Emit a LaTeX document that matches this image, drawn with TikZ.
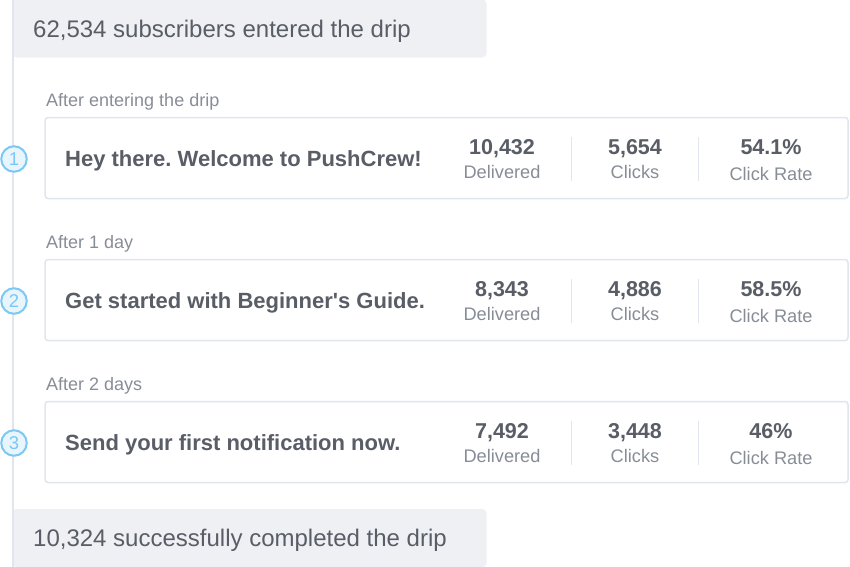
\documentclass[tikz,border=0pt]{standalone}
\usepackage{fontspec}
\setmainfont{Liberation Sans}[Ligatures=TeXOff]
\usetikzlibrary{positioning}
\definecolor{boxgray}{HTML}{EFF0F4}
\definecolor{linegray}{HTML}{E0E5EE}
\definecolor{titlegray}{HTML}{585D66}
\definecolor{labelgray}{HTML}{878D97}
\definecolor{stepblue}{HTML}{7CC8F5}
\definecolor{stepfill}{HTML}{E8F5FC}
\frenchspacing

\begin{document}
\begin{tikzpicture}[x=1pt,y=-1pt,
  summary/.style={fill=boxgray,rounded corners=4pt,minimum width=474pt,minimum height=58pt,inner sep=0pt},
  summarytext/.style={anchor=base west,inner sep=0pt,text=titlegray,font=\fontsize{24}{26}\selectfont},
  card/.style={draw=linegray,line width=1.5pt,fill=white,rounded corners=3pt,minimum width=803pt,minimum height=81pt,inner sep=0pt},
  delay/.style={anchor=base west,inner sep=0pt,text=labelgray,font=\fontsize{18}{20}\selectfont},
  msgtitle/.style={anchor=base west,inner sep=0pt,text=titlegray,font=\fontsize{22}{24}\selectfont\bfseries},
  stat/.style={anchor=base,inner sep=0pt,text=titlegray,font=\fontsize{21.5}{24}\selectfont\bfseries},
  statlabel/.style={anchor=base,inner sep=0pt,text=labelgray,font=\fontsize{18.2}{20}\selectfont},
  divider/.style={draw=linegray,line width=1.5pt},
  stepnum/.style={circle,draw=stepblue,fill=stepfill,line width=2pt,minimum size=25.5pt,inner sep=0pt,text=stepblue,font=\fontsize{18.5}{18}\selectfont},
  track/.style={draw=linegray,line width=2pt}]
\clip (0,0) rectangle (850,566);

% start and end of the drip
\node[summary] (start) at (249.5,28.5) {};
\node[summarytext] (start_t) at (33,37.5) {62,534 subscribers entered the drip};
\node[summary] (finish) at (249.5,538) {};
\node[summarytext] (finish_t) at (33,546.5) {10,324 successfully completed the drip};

\draw[track] ([xshift=1pt]start.north west) -- ([xshift=1pt]finish.south west);

%% message 1
\node[delay] (d_1) at (46,106) {After entering the drip};
\node[card] (c_1) at (446.5,158) {};
\node[msgtitle] (t_1) at (65,166.5) {Hey there. Welcome to PushCrew!};
\node[stat] (n_1a) at (502,154.5) {10,432};
\node[statlabel] (l_1a) at (502,178) {Delivered};
\node[stat] (n_1b) at (635,154.5) {5,654};
\node[statlabel] (l_1b) at (635,178) {Clicks};
\node[stat] (n_1c) at (771,154.5) {54.1\%};
\node[statlabel] (l_1c) at (771,180) {Click Rate};
\draw[divider] (571.5,137) -- (571.5,181);
\draw[divider] (698.5,137) -- (698.5,181);
\node[stepnum] (s_1) at (14,159) {1};

%% message 2
\node[delay] (d_2) at (46,248) {After 1 day};
\node[card] (c_2) at (446.5,300) {};
\node[msgtitle] (t_2) at (65,308.5) {Get started with Beginner's Guide.};
\node[stat] (n_2a) at (502,296.5) {8,343};
\node[statlabel] (l_2a) at (502,320) {Delivered};
\node[stat] (n_2b) at (635,296.5) {4,886};
\node[statlabel] (l_2b) at (635,320) {Clicks};
\node[stat] (n_2c) at (771,296.5) {58.5\%};
\node[statlabel] (l_2c) at (771,322) {Click Rate};
\draw[divider] (571.5,279) -- (571.5,323);
\draw[divider] (698.5,279) -- (698.5,323);
\node[stepnum] (s_2) at (14,301) {2};

%% message 3
\node[delay] (d_3) at (46,390) {After 2 days};
\node[card] (c_3) at (446.5,442) {};
\node[msgtitle] (t_3) at (65,450.5) {Send your first notification now.};
\node[stat] (n_3a) at (502,438.5) {7,492};
\node[statlabel] (l_3a) at (502,462) {Delivered};
\node[stat] (n_3b) at (635,438.5) {3,448};
\node[statlabel] (l_3b) at (635,462) {Clicks};
\node[stat] (n_3c) at (771,438.5) {46\%};
\node[statlabel] (l_3c) at (771,464) {Click Rate};
\draw[divider] (571.5,421) -- (571.5,465);
\draw[divider] (698.5,421) -- (698.5,465);
\node[stepnum] (s_3) at (14,443) {3};
\end{tikzpicture}
\end{document}
